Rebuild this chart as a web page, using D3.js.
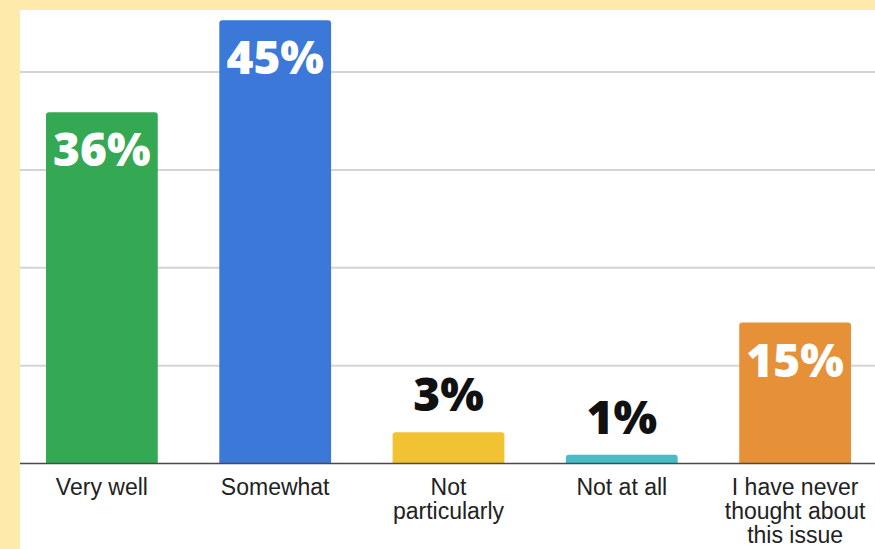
<!DOCTYPE html>
<html>
<head>
<meta charset="utf-8">
<script src="https://cdn.jsdelivr.net/npm/d3@7"></script>
<style>
  html, body { margin: 0; padding: 0; background: #fff; }
  svg { display: block; }
</style>
</head>
<body>
<svg id="chart"></svg>
<script>
const categories = ["Very well", "Somewhat", "Not particularly", "Not at all", "I have never thought about this issue"];
const values = [35.9, 45.3, 3.2, 0.9, 14.4];
const valueLabels = ["36%", "45%", "3%", "1%", "15%"];
const colors = ["#34a853", "#3c78d8", "#f1c232", "#46bdc6", "#e69138"];
const gridTicks = [10, 20, 30, 40];

const width = 875;
const height = 549;
const frame = { left: 20, top: 10 };
const margin = { left: 20, right: -2, top: 10, bottom: 86 };

const svg = d3.select("#chart").attr("width", width).attr("height", height);

// yellow frame with white panel
svg.append("rect").attr("width", width).attr("height", height).attr("fill", "#feebab");
svg.append("rect")
  .attr("x", frame.left).attr("y", frame.top)
  .attr("width", width - frame.left).attr("height", height - frame.top)
  .attr("fill", "#ffffff");

const x = d3.scaleBand()
  .domain(categories)
  .range([margin.left, width - margin.right])
  .paddingInner(0.355)
  .paddingOuter(0.15);

const y = d3.scaleLinear()
  .domain([0, 40])
  .range([463.5, 72]);

// gridlines
svg.append("g")
  .selectAll("line")
  .data(gridTicks)
  .join("line")
  .attr("x1", frame.left).attr("x2", width)
  .attr("y1", d => y(d)).attr("y2", d => y(d))
  .attr("stroke", "#d4d4d4")
  .attr("stroke-width", 2);

// bars with rounded top corners
const r = 3;
function barPath(x0, w, top, bottom) {
  return `M${x0},${bottom}V${top + r}Q${x0},${top} ${x0 + r},${top}` +
    `H${x0 + w - r}Q${x0 + w},${top} ${x0 + w},${top + r}V${bottom}Z`;
}

svg.append("g")
  .selectAll("path")
  .data(categories)
  .join("path")
  .attr("d", (d, i) => barPath(x(d), x.bandwidth(), y(values[i]), y(0)))
  .attr("fill", (d, i) => colors[i]);

// baseline
svg.append("line")
  .attr("x1", frame.left).attr("x2", width)
  .attr("y1", y(0)).attr("y2", y(0))
  .attr("stroke", "#4a4a4a")
  .attr("stroke-width", 1.5);

// value labels: inside for tall bars, above for short ones
svg.append("g")
  .selectAll("text")
  .data(categories)
  .join("text")
  .attr("x", d => x(d) + x.bandwidth() / 2)
  .attr("y", (d, i) => y(0) - y(values[i]) > 80 ? y(values[i]) + 54 : y(values[i]) - 21)
  .attr("text-anchor", "middle")
  .attr("font-family", "'Open Sans', sans-serif")
  .attr("font-weight", 800)
  .attr("font-size", 46)
  .attr("fill", (d, i) => y(0) - y(values[i]) > 80 ? "#ffffff" : "#111111")
  .text((d, i) => valueLabels[i]);

// category labels, wrapped
const labelFont = 23;
const ctx = document.createElement("canvas").getContext("2d");
ctx.font = `${labelFont}px 'Liberation Sans', Arial, sans-serif`;
function wrap(text, maxW) {
  const words = text.split(" ");
  const lines = [];
  let line = "";
  for (const w of words) {
    const test = line ? line + " " + w : w;
    if (line && ctx.measureText(test).width > maxW) {
      lines.push(line);
      line = w;
    } else {
      line = test;
    }
  }
  lines.push(line);
  return lines;
}

const labels = svg.append("g")
  .selectAll("text")
  .data(categories)
  .join("text")
  .attr("x", d => x(d) + x.bandwidth() / 2)
  .attr("y", 495)
  .attr("text-anchor", "middle")
  .attr("font-family", "'Liberation Sans', Arial, sans-serif")
  .attr("font-size", labelFont)
  .attr("fill", "#222222");

labels.each(function(d) {
  const lines = wrap(d, 148);
  d3.select(this).selectAll("tspan")
    .data(lines)
    .join("tspan")
    .attr("x", x(d) + x.bandwidth() / 2)
    .attr("dy", (l, i) => i === 0 ? 0 : 24)
    .text(l => l);
});
</script>
</body>
</html>
